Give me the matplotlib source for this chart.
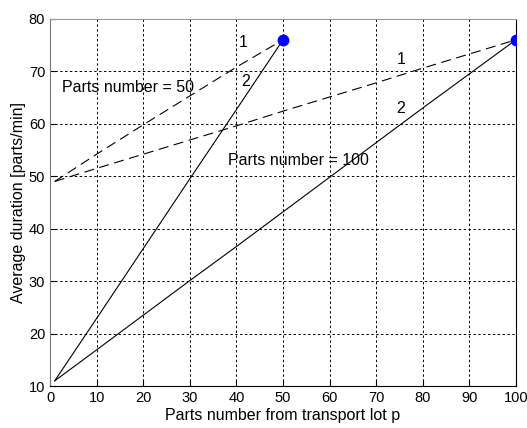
import matplotlib.pyplot as plt

plt.rcParams['font.family'] = ['Liberation Sans', 'DejaVu Sans']

# values
x50 = [1, 10, 20, 30, 40, 50]
x100 = [1, 10, 20, 30, 40, 50, 60, 70, 80, 90, 100]
dash50 = [49, 54.2, 59.8, 65.3, 70.8, 76]          # curve 1, parts number = 50
solid50 = [11, 22.9, 36.2, 49.5, 62.7, 76]          # curve 2, parts number = 50
dash100 = [49, 51.5, 54.2, 56.9, 59.6, 62.4, 65.1, 67.8, 70.6, 73.3, 76]
solid100 = [11, 16.9, 23.5, 30.1, 36.6, 43.2, 49.8, 56.4, 63.0, 69.5, 76]
end_x = [50, 100]
end_y = [76, 76]

fig = plt.figure(figsize=(5.27, 4.28), dpi=100)
ax = fig.add_axes([0.095, 0.098, 0.884, 0.858])

ax.plot(x50, dash50, color='black', lw=0.8, dashes=(9, 5))
ax.plot(x100, dash100, color='black', lw=0.8, dashes=(9, 5))
ax.plot(x50, solid50, color='black', lw=0.8)
ax.plot(x100, solid100, color='black', lw=0.8)
ax.plot(end_x, end_y, 'o', color='blue', ms=7.5, zorder=5)

fs = 11.5
ax.text(41.5, 75.4, '1', fontsize=fs, ha='center', va='center')
ax.text(41.9, 68, '2', fontsize=fs, ha='center', va='center')
ax.text(75.3, 72.2, '1', fontsize=fs, ha='center', va='center')
ax.text(75.3, 63, '2', fontsize=fs, ha='center', va='center')
ax.text(2.6, 67, 'Parts number = 50', fontsize=fs, va='center')
ax.text(38.3, 53, 'Parts number = 100', fontsize=fs, va='center')

ax.set_xlim(0, 100)
ax.set_ylim(10, 80)
ax.set_xticks(range(0, 101, 10))
ax.set_yticks(range(10, 81, 10))
ax.grid(True, color='black', lw=0.7, dashes=(2.5, 2.5))
ax.tick_params(direction='in', length=4, labelsize=10.5)

ax.spines['top'].set_color('#999999')
ax.spines['left'].set_color('#777777')
ax.spines['right'].set_color('black')
ax.spines['bottom'].set_color('black')

ax.set_xlabel('Parts number from transport lot p', fontsize=11.5, labelpad=2)
ax.set_ylabel('Average duration [parts/min]', fontsize=11.5, labelpad=2)

fig.savefig('out.png')
